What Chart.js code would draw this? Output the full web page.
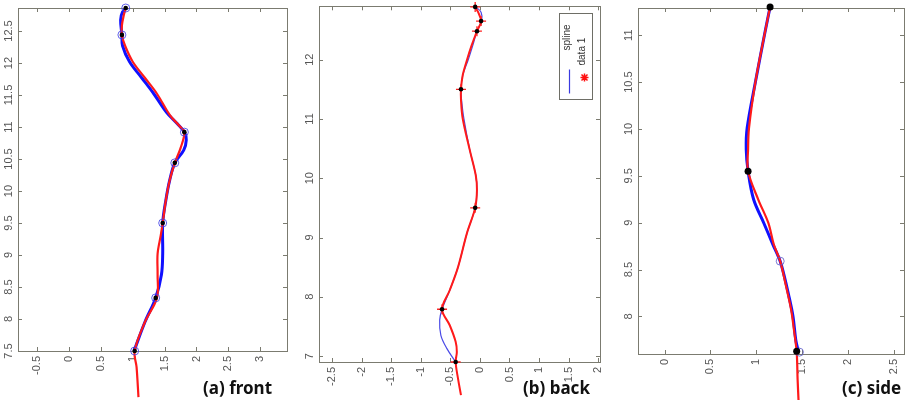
<!DOCTYPE html>
<html>
<head>
<meta charset="utf-8">
<script src="https://cdn.jsdelivr.net/npm/chart.js@4.4.0/dist/chart.umd.min.js"></script>
<style>
  body { margin: 0; background: #fff; width: 909px; height: 404px; overflow: hidden; position: relative; }
  .panel { position: absolute; top: 0; height: 404px; }
  .cap { position: absolute; top: 376px; font: bold 17px "Noto Sans", sans-serif; color: #111; white-space: nowrap; }
</style>
</head>
<body>
<div class="panel" style="left:0;width:300px"><canvas id="front" width="300" height="404"></canvas></div>
<div class="panel" style="left:300px;width:310px"><canvas id="back" width="310" height="404"></canvas></div>
<div class="panel" style="left:610px;width:299px"><canvas id="side" width="299" height="404"></canvas></div>
<div class="cap" style="left:203px">(a) front</div>
<div class="cap" style="left:523px">(b) back</div>
<div class="cap" style="left:842px">(c) side</div>
<script>
// --- (a) front ---
const frontKnotX = [1.03, 1.36, 1.47, 1.66, 1.81, 0.83, 0.89];
const frontKnotY = [7.5, 8.33, 9.5, 10.44, 10.92, 12.44, 12.86];
const frontRedX = [1.09, 1.06, 1.03, 1.19, 1.38, 1.39, 1.39, 1.44, 1.47, 1.52, 1.58, 1.66, 1.75, 1.81, 1.73, 1.58, 1.38, 1.19, 1.00, 0.88, 0.83, 0.83, 0.86, 0.89];
const frontRedY = [6.78, 7.25, 7.5, 7.95, 8.33, 8.69, 9.02, 9.31, 9.5, 9.86, 10.17, 10.44, 10.67, 10.92, 11.02, 11.19, 11.52, 11.77, 12.02, 12.27, 12.44, 12.59, 12.75, 12.86];
const frontBlueX = [1.02, 1.19, 1.36, 1.45, 1.47, 1.47, 1.52, 1.58, 1.66, 1.80, 1.84, 1.81, 1.70, 1.53, 1.33, 1.14, 0.95, 0.84, 0.83, 0.81, 0.84, 0.91];
const frontBlueY = [7.5, 7.95, 8.33, 8.69, 9.02, 9.5, 9.86, 10.17, 10.44, 10.64, 10.80, 10.92, 11.05, 11.23, 11.52, 11.77, 12.02, 12.27, 12.44, 12.67, 12.80, 12.86];
const frontXTicks = [-0.5, 0, 0.5, 1, 1.5, 2, 2.5, 3];
const frontYTicks = [7.5, 8, 8.5, 9, 9.5, 10, 10.5, 11, 11.5, 12, 12.5];

// --- (b) back ---
const backKnotX = [-0.08, 0.02, -0.05, -0.32, -0.08, -0.64, -0.41];
const backKnotY = [12.89, 12.65, 12.48, 11.5, 9.5, 7.79, 6.9];
const backRedX = [-0.32, -0.37, -0.41, -0.39, -0.41, -0.51, -0.64, -0.51, -0.37, -0.22, -0.08, -0.05, -0.07, -0.17, -0.29, -0.32, -0.32, -0.29, -0.22, -0.14, -0.05, 0.02, -0.03, -0.08];
const backRedY = [6.34, 6.62, 6.9, 7.07, 7.24, 7.52, 7.79, 8.11, 8.5, 9.07, 9.5, 9.8, 10.05, 10.47, 11.0, 11.32, 11.5, 11.74, 11.99, 12.24, 12.48, 12.65, 12.8, 12.89];
const backBlueX = [-0.41, -0.56, -0.66, -0.68, -0.64, -0.51, -0.37, -0.22, -0.08, -0.05, -0.07, -0.17, -0.27, -0.31, -0.32, -0.29, -0.2, -0.12, -0.05, 0.03, 0.02, -0.07];
const backBlueY = [6.9, 7.13, 7.35, 7.61, 7.79, 8.11, 8.5, 9.07, 9.5, 9.8, 10.05, 10.47, 11.0, 11.32, 11.5, 11.74, 11.99, 12.24, 12.48, 12.65, 12.8, 12.89];
const backXTicks = [-2.5, -2, -1.5, -1, -0.5, 0, 0.5, 1, 1.5, 2];
const backYTicks = [7, 8, 9, 10, 11, 12];

// --- (c) side ---
const sideKnotX = [1.15, 0.91, 1.44];
const sideKnotY = [11.3, 9.55, 7.63];
const sideCircleX = [1.26, 1.47];
const sideCircleY = [8.59, 7.62];
const sideRedX = [1.46, 1.45, 1.44, 1.41, 1.38, 1.32, 1.26, 1.19, 1.13, 1.02, 0.91, 0.91, 0.92, 0.99, 1.09, 1.15];
const sideRedY = [7.11, 7.33, 7.62, 7.86, 8.07, 8.34, 8.59, 8.77, 9.0, 9.25, 9.55, 9.78, 10.01, 10.5, 11.01, 11.3];
const sideBlueX = [1.46, 1.43, 1.40, 1.35, 1.30, 1.26, 1.18, 1.08, 0.97, 0.91, 0.89, 0.90, 0.99, 1.09, 1.15];
const sideBlueY = [7.62, 7.75, 8.0, 8.24, 8.45, 8.59, 8.77, 9.0, 9.25, 9.55, 9.78, 10.01, 10.5, 11.01, 11.3];
const sideXTicks = [0, 0.5, 1, 1.5, 2, 2.5];
const sideYTicks = [8, 8.5, 9, 9.5, 10, 10.5, 11];

const pts = (xs, ys) => xs.map((v, i) => ({ x: v, y: ys[i] }));

// MATLAB-ish box with inward ticks, labels turned a quarter turn
const matlabBox = {
  id: 'matlabBox',
  beforeDatasetsDraw(chart, args, opts) {
    const { ctx, chartArea: a, scales: { x, y } } = chart;
    ctx.save();
    ctx.strokeStyle = '#7b7b70';
    ctx.lineWidth = 1;
    ctx.strokeRect(Math.round(a.left) + 0.5, Math.round(a.top) + 0.5, Math.round(a.width), Math.round(a.height));
    ctx.beginPath();
    opts.xTicks.forEach(v => {
      const px = Math.round(x.getPixelForValue(v)) + 0.5;
      ctx.moveTo(px, a.bottom); ctx.lineTo(px, a.bottom - 4);
      ctx.moveTo(px, a.top); ctx.lineTo(px, a.top + 4);
    });
    opts.yTicks.forEach(v => {
      const py = Math.round(y.getPixelForValue(v)) + 0.5;
      ctx.moveTo(a.left, py); ctx.lineTo(a.left + 4, py);
      ctx.moveTo(a.right, py); ctx.lineTo(a.right - 4, py);
    });
    ctx.stroke();

    ctx.fillStyle = '#555';
    ctx.font = '11px "Liberation Sans", sans-serif';
    opts.xTicks.forEach(v => {
      ctx.save();
      ctx.translate(x.getPixelForValue(v), a.bottom + 5);
      ctx.rotate(-Math.PI / 2);
      ctx.textAlign = 'right';
      ctx.textBaseline = 'middle';
      ctx.fillText(String(v), 0, 0);
      ctx.restore();
    });
    opts.yTicks.forEach(v => {
      ctx.save();
      ctx.translate(a.left - 9, y.getPixelForValue(v));
      ctx.rotate(-Math.PI / 2);
      ctx.textAlign = 'center';
      ctx.textBaseline = 'middle';
      ctx.fillText(String(v), 0, 0);
      ctx.restore();
    });
    ctx.restore();
  },
  afterDraw(chart, args, opts) {
    if (!opts.legend) return;
    const { ctx, chartArea: a } = chart;
    const bx = Math.round(a.right) - 40.5, by = Math.round(a.top) + 7.5;
    ctx.save();
    ctx.fillStyle = '#fff';
    ctx.strokeStyle = '#6e6e66';
    ctx.lineWidth = 1;
    ctx.fillRect(bx, by, 33, 86);
    ctx.strokeRect(bx, by, 33, 86);
    // red star
    const sx = bx + 25, sy = by + 64;
    ctx.strokeStyle = '#ff1010';
    ctx.lineWidth = 1.5;
    ctx.beginPath();
    ctx.moveTo(sx - 4, sy); ctx.lineTo(sx + 4, sy);
    ctx.moveTo(sx, sy - 4); ctx.lineTo(sx, sy + 4);
    ctx.moveTo(sx - 3, sy - 3); ctx.lineTo(sx + 3, sy + 3);
    ctx.moveTo(sx - 3, sy + 3); ctx.lineTo(sx + 3, sy - 3);
    ctx.stroke();
    // blue line
    ctx.strokeStyle = '#3a3ae0';
    ctx.lineWidth = 1.2;
    ctx.beginPath();
    ctx.moveTo(bx + 10, by + 56); ctx.lineTo(bx + 10, by + 80);
    ctx.stroke();
    ctx.fillStyle = '#333';
    ctx.font = '10px "Liberation Sans", sans-serif';
    ctx.textBaseline = 'middle';
    ctx.textAlign = 'left';
    [['data 1', bx + 23, by + 52], ['spline', bx + 8, by + 37]].forEach(([t, tx, ty]) => {
      ctx.save();
      ctx.translate(tx, ty);
      ctx.rotate(-Math.PI / 2);
      ctx.fillText(t, 0, 0);
      ctx.restore();
    });
    ctx.restore();
  }
};

function makePanel(id, pad, xr, yr, datasets, box) {
  new Chart(document.getElementById(id), {
    type: 'scatter',
    data: { datasets: datasets },
    options: {
      responsive: false,
      animation: false,
      layout: { padding: pad },
      scales: {
        x: { type: 'linear', min: xr[0], max: xr[1], display: false },
        y: { type: 'linear', min: yr[0], max: yr[1], display: false }
      },
      plugins: { legend: { display: false }, tooltip: { enabled: false }, matlabBox: box }
    },
    plugins: [matlabBox]
  });
}

// first dataset ends up on top
const curve = (data, color, width) => ({
  data: data, showLine: true, borderColor: color, borderWidth: width,
  pointRadius: 0, tension: 0.35, clip: false, fill: false
});
const marks = (data, style, radius, fillColor, strokeColor, width) => ({
  data: data, showLine: false, pointStyle: style, pointRadius: radius,
  backgroundColor: fillColor, borderColor: strokeColor, borderWidth: width, clip: false
});

makePanel('front', { left: 18, top: 8, right: 13, bottom: 53 }, [-0.8, 3.42], [7.5, 12.86], [
  marks(pts(frontKnotX, frontKnotY), 'circle', 2.3, '#000', '#000', 0),
  marks(pts(frontKnotX, frontKnotY), 'circle', 4, 'rgba(0,0,0,0)', 'rgba(60,60,230,0.8)', 1),
  curve(pts(frontRedX, frontRedY), '#ff1a1a', 2.2),
  curve(pts(frontBlueX, frontBlueY), '#1010ff', 3)
], { xTicks: frontXTicks, yTicks: frontYTicks });

makePanel('back', { left: 19, top: 6, right: 10, bottom: 42 }, [-2.72, 2.03], [6.9, 12.9], [
  marks(pts(backKnotX, backKnotY), 'circle', 2.3, '#000', '#000', 0),
  marks(pts(backKnotX, backKnotY), 'cross', 5, '#ff2020', '#ff2020', 1.3),
  curve(pts(backRedX, backRedY), '#ff1a1a', 2),
  curve(pts(backBlueX, backBlueY), '#4a4ae6', 1.2)
], { xTicks: backXTicks, yTicks: backYTicks, legend: true });

makePanel('side', { left: 28, top: 8, right: 1, bottom: 50 }, [-0.29, 2.61], [7.6, 11.29], [
  marks(pts(sideKnotX, sideKnotY), 'circle', 3.5, '#000', '#000', 0),
  marks(pts(sideCircleX, sideCircleY), 'circle', 4, 'rgba(0,0,0,0)', 'rgba(90,90,200,0.8)', 1),
  curve(pts(sideRedX, sideRedY), '#ff1a1a', 2.2),
  curve(pts(sideBlueX, sideBlueY), '#1010ff', 3)
], { xTicks: sideXTicks, yTicks: sideYTicks });
</script>
</body>
</html>
